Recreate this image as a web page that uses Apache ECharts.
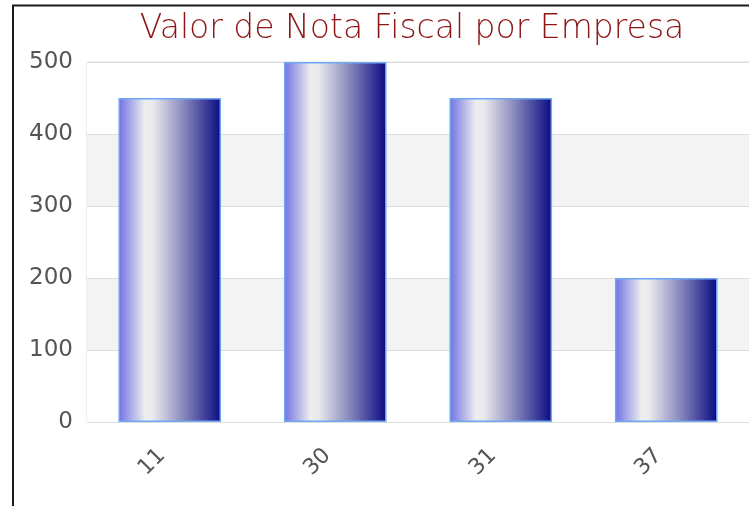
<!DOCTYPE html>
<html>
<head>
<meta charset="utf-8">
<script src="https://cdn.jsdelivr.net/npm/echarts@6/dist/echarts.min.js"></script>
<style>
  html, body { margin: 0; padding: 0; background: #fff; }
  #main { width: 749px; height: 506px; }
</style>
</head>
<body>
<div id="main"></div>
<script>
var categories = ['11', '30', '31', '37'];
var valores = [450, 500, 450, 200];
var yTicks = [0, 100, 200, 300, 400, 500];

var chart = echarts.init(document.getElementById('main'));

var barGradient = new echarts.graphic.LinearGradient(0, 0, 1, 0, [
  { offset: 0, color: '#7070e4' },
  { offset: 0.26, color: '#eeeeee' },
  { offset: 0.34, color: '#e8e8ee' },
  { offset: 0.6, color: '#9494c2' },
  { offset: 1, color: '#0a0a82' }
]);

chart.setOption({
  animation: false,
  title: {
    text: 'Valor de Nota Fiscal por Empresa',
    left: 407,
    textAlign: 'center',
    top: 8,
    textStyle: {
      color: '#8c1616',
      fontFamily: 'DejaVu Sans',
      fontWeight: 300,
      fontSize: 33
    }
  },
  grid: {
    left: 87,
    right: -3,
    top: 62,
    bottom: 84,
    show: true,
    borderColor: '#dddddd',
    borderWidth: 1,
    backgroundColor: 'transparent'
  },
  graphic: [
    { type: 'line', shape: { x1: 13, y1: 5, x2: 13, y2: 506 }, style: { stroke: '#1a1a1a', lineWidth: 2 } },
    { type: 'line', shape: { x1: 12, y1: 5.5, x2: 749, y2: 5.5 }, style: { stroke: '#1a1a1a', lineWidth: 2 } }
  ],
  xAxis: {
    type: 'category',
    data: categories,
    axisLine: { show: false },
    axisTick: { show: false },
    axisLabel: {
      rotate: 45,
      margin: 38,
      verticalAlign: 'bottom',
      color: '#555555',
      fontFamily: 'DejaVu Sans',
      fontSize: 22
    }
  },
  yAxis: {
    type: 'value',
    min: yTicks[0],
    max: yTicks[yTicks.length - 1],
    interval: 100,
    axisLine: { show: false },
    axisTick: { show: false },
    axisLabel: {
      margin: 14,
      color: '#555555',
      fontFamily: 'DejaVu Sans',
      fontSize: 23
    },
    splitLine: { lineStyle: { color: '#dddddd', width: 1 } },
    splitArea: { show: true, areaStyle: { color: ['#ffffff', '#f3f3f3'] } }
  },
  series: [{
    type: 'bar',
    data: valores,
    barWidth: '62%',
    itemStyle: {
      color: barGradient,
      borderColor: '#6fa8f2',
      borderWidth: 1.5
    }
  }]
});
</script>
</body>
</html>
